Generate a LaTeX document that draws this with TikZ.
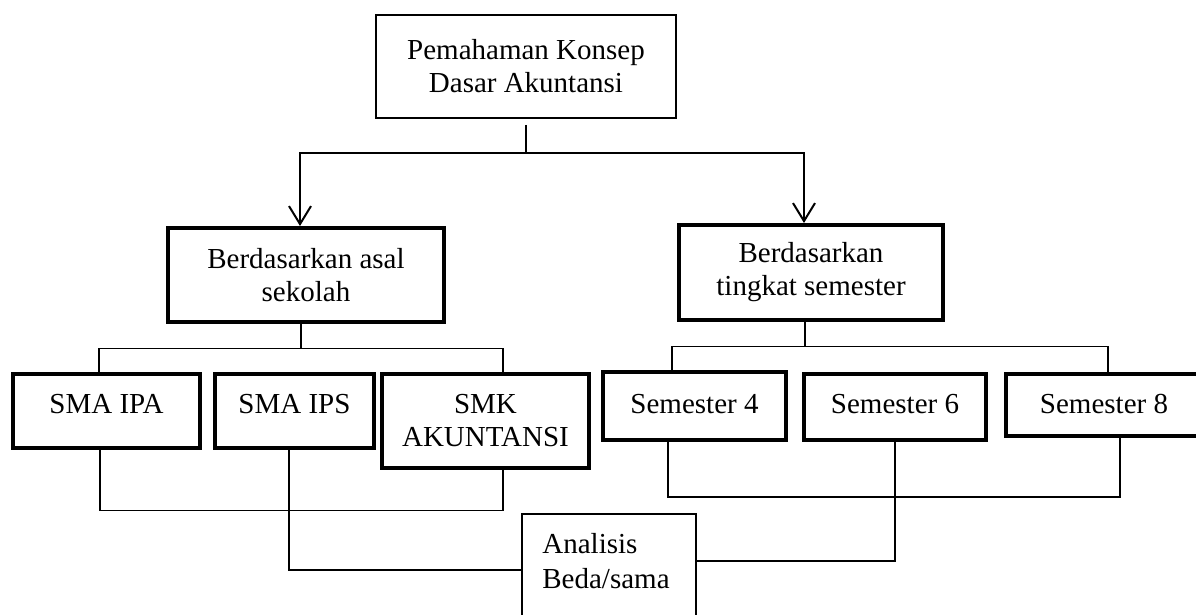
\documentclass[tikz,border=0pt]{standalone}
\usepackage{fontspec}
\setmainfont{Liberation Serif}
\usetikzlibrary{arrows.meta}
\begin{document}
\begin{tikzpicture}[x=0.5pt,y=-0.5pt,
  every node/.style={font=\fontsize{14.5pt}{16.5pt}\selectfont, inner sep=0pt},
  thinbox/.style={draw, rectangle, align=center, line width=0.9pt},
  thickbox/.style={draw, rectangle, align=center, line width=2pt},
  conn/.style={line width=0.8pt},
  arr/.style={line width=1pt, -{Straight Barb[length=9pt,width=11pt,line width=1pt]}}]
\useasboundingbox (0,0) rectangle (1196,615);
% boxes
\node[thinbox, minimum width=150pt, minimum height=51.5pt] (top) at (526,66.5) {Pemahaman Konsep\\Dasar Akuntansi};
\node[thickbox, minimum width=138pt, minimum height=47pt] (asal) at (306,275) {Berdasarkan asal\\sekolah};
\node[thickbox, minimum width=132pt, minimum height=47.5pt] (sem) at (811,272.5) {Berdasarkan\\tingkat semester};
\node[thickbox, minimum width=93.5pt, minimum height=37pt, text height=10pt, text depth=8pt] (ipa) at (106.5,411) {SMA IPA};
\node[thickbox, minimum width=79.5pt, minimum height=37pt, text height=10pt, text depth=8pt] (ips) at (294.5,411) {SMA IPS};
\node[thickbox, minimum width=103.5pt, minimum height=47pt] (smk) at (485.5,421) {SMK\\AKUNTANSI};
\node[thickbox, minimum width=91.5pt, minimum height=34pt, text height=10pt, text depth=3pt] (s4) at (694.5,406) {Semester 4};
\node[thickbox, minimum width=91pt, minimum height=33pt, text height=10pt, text depth=4pt] (s6) at (895,407) {Semester 6};
\node[thickbox, minimum width=98pt, minimum height=31pt, text height=10pt, text depth=2pt] (s8) at (1104,405) {Semester 8};
\node[thinbox, minimum width=87pt, minimum height=56pt] (ana) at (609,570) {};
\node[anchor=north west, align=left, font=\fontsize{14.5pt}{17.5pt}\selectfont] (anatext) at (542,532.5) {Analisis\\Beda/sama};
% top split with arrows
\coordinate (j1) at (526,153);
\draw[conn, line width=1pt] ([yshift=-3pt]top.south) -- (j1);
\draw[arr] (j1) -| ([xshift=-3pt]asal.north);
\draw[arr] (j1) -| ([xshift=-3.5pt]sem.north);
% school branch
\coordinate (j2) at (301,348.5);
\draw[conn] ([xshift=-2.5pt]asal.south) -- (j2);
\draw[conn] ([xshift=-3.75pt]ipa.north) |- (j2) -| ([xshift=8.75pt]smk.north);
% semester branch
\coordinate (j3) at (805,346.5);
\draw[conn] ([xshift=-3pt]sem.south) -- (j3);
\draw[conn] ([xshift=-11.25pt]s4.north) |- (j3) -| ([xshift=2pt]s8.north);
% lower connections
\coordinate (j4) at (503,510.5);
\draw[conn] ([xshift=-3.25pt]ipa.south) |- (j4) -- ([xshift=8.75pt]smk.south);
\draw[conn] ([xshift=-2.75pt]ips.south) |- (ana.west);
\coordinate (j5) at (1120,497);
\draw[conn] ([xshift=-13.25pt]s4.south) |- (j5) -- ([xshift=8pt]s8.south);
\draw[conn] (s6.south) |- ([yshift=4.5pt]ana.east);
\end{tikzpicture}
\end{document}
